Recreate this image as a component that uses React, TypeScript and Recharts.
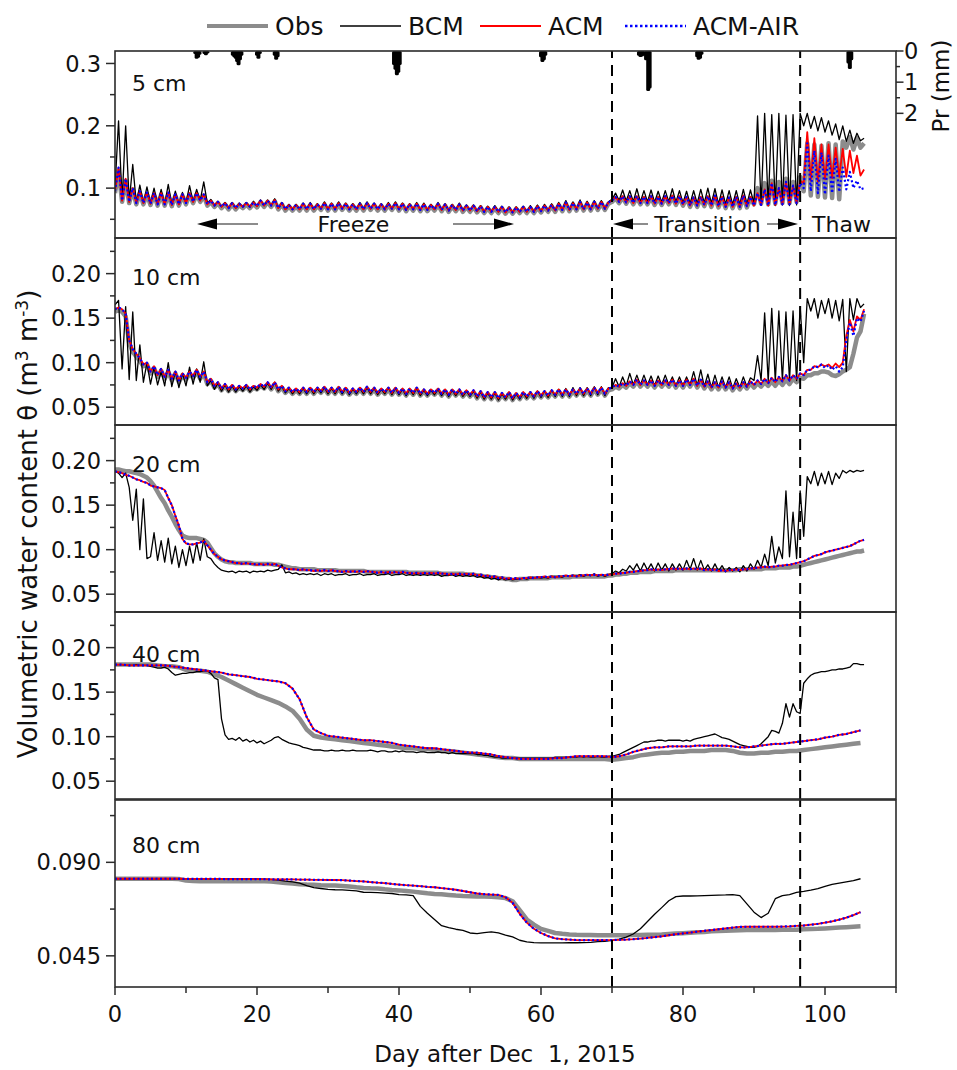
import { ComposedChart, Line, Bar, XAxis, YAxis, ReferenceLine } from 'recharts';

const FONT = '"DejaVu Sans", Verdana, sans-serif';
const INK = '#111';
const FRAME = '#2b2b2b';

// θ in 1e-3 m3 m-3. Half-day samples starting at day 0 unless marked "daily".

// ---- 5 cm ----
const obs5 = [
  92,128,78,112,76,98,74,92,74,90,73,90,72,90,72,90,71,88,72,88,
  74,90,76,90,78,88,72,78,70,76,68,74,66,74,66,73,68,74,68,75,
  69,78,70,78,70,79,66,74,64,71,64,71,64,73,64,73,64,72,65,74,
  64,73,64,74,65,73,64,72,64,73,64,74,65,73,64,72,64,73,65,74,
  64,73,63,72,64,73,63,72,63,71,64,73,63,72,62,71,63,72,62,70,
  62,70,61,69,60,68,60,68,60,68,59,67,59,67,60,68,60,68,60,69,
  61,70,62,71,62,73,63,75,63,74,64,76,64,75,64,76,65,76,65,75,
  78,84,76,85,75,85,74,85,74,84,74,85,73,84,73,85,74,86,73,85,
  72,84,70,83,70,84,71,85,70,86,69,84,68,83,68,84,68,86,69,84,
  74,100,75,108,74,112,75,110,76,115,76,110,78,118,
  95,172,88,170,86,168,85,172,84,170,82,175,165,182,162,180,165,172,
];
const bcm5 = [
  100,208,80,200,78,138,76,105,76,102,75,100,74,98,74,106,73,95,74,93,
  76,104,78,98,80,110,76,82,72,79,70,77,68,77,68,76,70,77,70,79,
  71,81,72,81,72,83,68,77,66,74,66,74,66,76,66,77,66,75,67,78,
  66,76,66,78,67,76,66,75,66,77,66,78,67,76,66,75,66,77,67,78,
  66,76,65,75,66,77,65,76,65,74,66,77,65,75,64,74,65,76,64,73,
  64,73,63,72,62,71,62,72,62,71,61,70,61,70,62,71,62,72,62,73,
  63,74,64,75,64,77,65,80,65,78,66,81,66,79,66,80,67,80,67,78,
  82,92,80,97,79,96,78,99,78,96,78,97,77,95,77,96,78,99,77,96,
  76,95,75,96,75,98,76,100,75,99,74,97,74,96,73,96,73,98,74,97,
  75,216,73,220,72,218,72,220,73,217,72,218,73,220,
  200,220,196,215,192,213,190,208,185,203,178,200,175,193,172,188,176,180,
];
const acm5 = [
  95,133,80,115,78,100,76,95,76,93,75,92,74,92,74,93,73,90,74,90,
  76,92,78,92,80,90,74,80,72,78,70,76,68,76,68,75,70,76,70,77,
  71,80,72,80,72,81,68,76,66,73,66,73,66,75,66,75,66,74,67,76,
  66,75,66,76,67,75,66,74,66,75,66,76,67,75,66,74,66,75,67,76,
  66,75,65,74,66,75,65,74,65,73,66,75,65,74,64,73,65,74,64,72,
  64,72,63,71,62,70,62,70,62,70,61,69,61,69,62,70,62,70,62,71,
  63,72,64,73,64,75,65,77,65,76,66,78,66,77,66,78,67,78,67,77,
  80,86,78,87,77,87,76,87,76,86,76,87,75,86,75,87,76,88,75,87,
  74,86,72,85,72,86,73,87,72,88,71,86,70,85,70,86,70,88,71,86,
  72,92,73,98,72,108,73,100,74,110,74,104,76,112,
  108,190,112,180,110,170,114,170,116,165,118,163,118,160,124,152,120,130,
];
// ACM-AIR follows ACM until the thaw, then runs lower
const air5 = [
  ...acm5.slice(0, 193),
  108,100,172,95,160,92,157,90,152,92,147,94,133,98,126,100,112,98,100,
];

// ---- 10 cm ----
const obs10 = [
  157,160,157,152,122,112,107,102,96,98,88,94,84,91,82,90,80,88,78,86,
  81,88,83,90,82,88,76,80,72,76,69,74,68,73,68,72,69,73,68,72,
  70,74,71,76,70,76,68,72,66,70,65,69,65,70,65,70,65,70,66,71,
  65,70,65,71,65,70,64,69,65,70,65,71,65,70,64,69,65,70,64,70,
  64,69,63,69,64,70,63,68,63,68,64,69,63,68,62,68,63,68,62,67,
  62,67,60,66,59,65,59,65,58,64,59,65,58,64,59,65,60,65,60,66,
  61,66,61,67,62,68,62,68,62,68,63,69,63,69,63,70,64,70,63,69,
  70,73,71,75,72,77,73,79,73,78,73,78,72,78,73,78,73,79,72,78,
  72,79,73,80,72,79,71,77,70,76,70,77,70,76,69,75,70,76,71,77,
  72,77,73,78,74,79,74,80,75,81,76,82,78,83,
  82,86,86,88,88,90,90,89,86,85,87,90,92,95,110,128,135,155,
];
const bcm10 = [
  165,170,93,163,81,157,80,120,78,100,76,95,75,90,74,100,73,90,72,88,
  74,95,76,93,78,101,74,80,70,77,68,75,67,74,67,73,68,74,67,73,
  69,75,70,77,70,78,68,73,66,71,65,70,65,71,65,71,65,71,66,72,
  65,71,65,72,65,71,64,70,65,71,65,72,65,71,64,70,65,72,64,71,
  64,70,63,70,64,71,63,69,63,69,64,70,63,69,62,69,63,69,62,68,
  62,68,60,67,59,66,59,66,58,65,59,66,58,65,59,66,60,67,60,68,
  61,68,61,69,62,70,62,71,62,72,63,72,63,72,63,73,64,73,63,72,
  72,82,73,84,74,88,75,86,75,86,75,85,74,85,75,86,75,84,74,84,
  74,84,75,90,74,92,73,87,72,86,72,84,72,84,71,82,72,84,73,83,
  80,108,80,156,79,161,79,158,80,157,80,158,80,163,
  100,172,158,172,150,170,155,172,150,170,147,171,90,172,148,172,162,166,
];
const acm10 = [
  160,162,160,155,125,115,110,105,98,100,90,96,86,93,84,92,82,90,80,88,
  83,90,85,92,84,90,78,82,74,78,71,76,70,75,70,74,71,75,70,74,
  72,76,73,78,72,78,70,74,68,72,67,71,67,72,67,72,67,72,68,73,
  67,72,67,73,67,72,66,71,67,72,67,73,67,72,66,71,67,72,66,72,
  66,71,65,71,66,72,65,70,65,70,66,71,65,70,64,70,65,70,64,69,
  64,69,62,68,61,67,61,67,60,66,61,67,60,66,61,67,62,67,62,68,
  63,68,63,69,64,70,64,70,64,70,65,71,65,71,65,72,66,72,65,71,
  72,75,73,77,74,79,75,81,75,80,75,80,74,80,75,80,75,81,74,80,
  74,81,75,82,74,81,73,79,72,78,72,79,72,78,71,77,72,78,73,79,
  75,80,76,82,77,83,78,84,79,86,80,86,82,88,
  86,92,92,96,95,98,96,98,94,99,95,100,130,148,135,152,148,160,
];
const air10 = [
  ...acm10.slice(0, 200),
  94,97,92,96,90,95,125,145,130,150,146,158,
];

// ---- 20 cm ----
const obs20 = [
  190,190,189,188,188,187,186,185,183,181,
  177,172,165,158,152,144,137,129,122,116,
  114,113,113,113,112,111,108,102,96,92,
  89,87,86,86,85,85,85,85,85,84,
  84,84,84,84,84,83,83,82,81,80,
  79,79,78,78,78,78,78,77,77,77,
  77,77,77,76,76,76,76,76,76,76,
  76,75,75,75,75,75,75,75,75,75,
  75,75,75,74,74,74,74,74,74,74,
  74,74,73,73,73,73,73,73,73,72,
  72,72,71,71,70,70,69,69,68,68,
  67,67,66,66,67,67,67,68,68,68,
  68,68,68,69,69,69,69,69,69,70,
  70,70,70,70,70,70,70,70,70,71,
  71,72,72,73,73,74,74,74,75,75,
  75,75,76,76,76,76,76,76,77,77,
  77,77,77,77,77,77,77,77,77,77,
  77,77,77,77,77,77,78,78,78,78,
  78,78,78,79,79,79,79,80,80,80,
  80,81,81,82,83,84,85,86,87,88,
  89,90,91,92,93,94,95,96,97,98,
  98,99,
];
const bcm20 = [
  188,186,181,186,170,133,168,100,157,90,
  92,119,88,110,86,113,84,104,80,100,
  82,104,85,108,88,112,92,90,84,80,
  77,76,75,76,74,76,75,76,74,76,
  75,76,75,77,76,77,78,83,74,75,
  73,74,72,73,72,73,72,73,71,73,
  72,73,71,72,72,73,71,72,72,73,
  71,72,72,73,71,72,72,73,71,72,
  72,73,71,72,71,72,71,72,71,72,
  71,72,70,71,71,72,70,71,70,71,
  70,71,69,70,68,69,67,68,66,68,
  66,67,66,67,67,68,67,68,68,69,
  68,69,68,70,69,70,69,71,70,71,
  70,72,70,72,71,73,70,72,70,72,
  73,76,74,78,76,82,77,84,76,85,
  77,84,76,85,77,84,76,84,77,84,
  77,88,78,90,77,88,77,83,76,84,
  76,82,75,80,76,80,75,82,76,84,
  78,88,80,95,82,115,85,103,90,166,
  92,142,90,166,115,182,174,188,172,186,
  174,188,173,186,180,189,186,189,187,189,
  188,189,
];
const acm20 = [
  188,187,186,184,183,181,179,178,176,175,
  172,171,170,169,167,158,150,138,127,112,
  107,106,106,107,108,110,105,100,95,92,
  89,88,87,86,85,85,84,85,84,84,
  83,84,83,84,83,84,82,80,79,78,
  78,78,77,78,77,77,76,77,76,77,
  76,77,76,76,75,76,75,76,75,76,
  75,76,75,75,74,75,74,75,74,75,
  74,75,74,74,73,74,73,74,73,74,
  73,74,73,73,72,73,72,73,72,73,
  72,73,71,72,70,71,69,70,68,69,
  67,68,67,68,67,68,68,69,68,69,
  69,70,69,70,69,70,70,71,70,71,
  70,71,71,72,71,72,71,72,71,72,
  72,73,73,74,74,75,75,76,76,77,
  77,78,77,78,77,78,78,79,78,79,
  78,79,78,79,78,79,77,78,77,78,
  76,77,76,77,77,78,77,78,78,79,
  79,80,80,81,80,81,81,82,82,83,
  83,84,85,86,87,89,91,93,94,95,
  97,98,99,100,101,102,103,104,106,108,
  110,111,
];
// at 20 cm and deeper ACM-AIR sits on top of ACM
const air20 = acm20.slice();

// ---- 40 cm ----
const obs40 = [ // daily
  181,181,181,181,181,181,180,179,179,178,
  175,174,174,173,170,167,163,159,155,151,
  147,144,141,138,134,129,120,108,101,99,
  98,97,96,95,94,93,92,91,90,89,
  88,87,87,86,86,85,84,84,83,82,
  81,80,79,78,77,76,76,75,75,75,
  75,75,75,75,75,75,75,75,75,75,
  74,75,76,77,79,80,81,82,82,83,
  83,84,84,84,85,85,85,84,82,81,
  81,82,82,83,83,84,84,85,86,87,
  88,89,90,91,92,93,
];
const bcm40 = [
  181,181,181,180,180,180,181,180,180,180,
  179,178,177,177,178,176,172,169,170,171,
  171,172,172,173,173,174,174,171,166,164,
  120,102,97,98,96,99,95,97,94,96,
  93,95,92,94,96,99,100,97,95,93,
  92,91,90,88,87,86,85,85,85,84,
  84,85,84,84,85,84,84,85,84,84,
  84,84,85,84,83,84,84,83,83,84,
  83,84,83,83,83,82,83,83,82,82,
  82,83,82,82,81,82,81,81,81,81,
  81,81,80,80,79,79,78,77,77,76,
  76,76,76,76,76,76,76,76,76,76,
  76,76,76,76,77,77,77,77,77,77,
  77,78,77,78,77,77,78,77,77,78,
  78,79,80,82,84,86,88,90,92,94,
  94,95,95,96,96,95,96,96,96,96,
  95,96,95,97,98,99,100,101,102,103,
  101,99,98,97,95,93,91,90,89,88,
  88,89,92,96,100,107,106,104,115,137,
  122,137,128,126,160,165,169,171,172,173,
  173,174,175,175,176,176,177,178,182,182,
  181,181,
];
const acm40 = [ // daily
  181,181,180,180,180,180,180,180,179,178,
  177,176,175,174,173,172,170,169,168,167,
  165,164,163,162,160,154,142,122,108,104,
  101,100,99,98,97,96,96,95,94,93,
  91,90,89,88,87,87,86,85,84,83,
  82,82,81,80,78,77,76,75,75,75,
  75,75,76,76,77,78,78,78,78,78,
  77,78,80,83,85,87,88,88,89,89,
  89,89,90,90,90,90,90,89,88,88,
  89,90,91,92,92,93,94,95,96,97,
  99,100,102,103,105,107,
];
const air40 = acm40.slice();

// ---- 80 cm (daily) ----
const obs80 = [
  82.1,82.1,82.1,82.1,82.1,82.1,82.1,82.1,82.1,82.0,
  81.2,81.0,80.9,80.9,80.9,80.9,80.9,80.9,80.9,80.9,
  80.9,80.9,80.8,80.4,80.0,79.8,79.5,79.3,79.2,79.0,
  78.9,78.8,78.6,78.4,78.0,77.7,77.5,77.4,77.0,76.7,
  76.5,76.2,75.9,75.5,75.1,74.8,74.6,74.3,74.0,73.8,
  73.7,73.6,73.5,73.4,73.2,72.8,71.3,67.0,62.5,60.0,
  58.0,57.0,56.0,55.6,55.3,55.1,55.0,55.0,54.9,54.9,
  54.9,54.9,54.9,55.0,55.0,55.1,55.2,55.3,55.5,55.7,
  55.9,56.1,56.3,56.5,56.8,57.0,57.1,57.2,57.3,57.4,
  57.4,57.4,57.4,57.4,57.5,57.5,57.6,57.8,57.9,58.0,
  58.2,58.4,58.6,58.8,59.0,59.2,
];
const bcm80 = [
  82.1,82.1,82.1,82.1,82.1,82.1,82.1,82.1,82.1,82.1,
  82.0,82.0,82.0,82.0,82.0,82.0,82.0,82.0,82.0,82.0,
  82.0,81.9,81.8,81.5,81.0,80.6,80.0,78.8,77.8,77.4,
  77.0,76.8,76.7,76.5,76.3,75.6,75.5,75.4,75.2,75.0,
  74.5,74.3,74.0,68.8,65.5,62.5,59.5,58.6,57.8,57.2,
  56.0,55.7,56.2,56.5,56.0,55.0,54.1,52.5,51.7,51.4,
  51.2,51.2,51.2,51.2,51.3,51.3,51.4,51.5,51.8,52.0,
  52.4,53.0,54.0,55.5,58.0,61.5,65.0,68.2,71.5,73.5,
  73.8,73.8,73.9,74.0,74.1,74.2,74.3,74.5,74.0,70.0,
  66.0,63.4,65.5,72.5,74.0,74.5,75.5,76.0,76.6,77.3,
  78.4,79.4,80.0,80.6,81.2,82.1,
];
const acm80 = [
  82.1,82.1,82.1,82.1,82.1,82.1,82.1,82.1,82.1,82.1,
  82.0,82.0,82.0,82.0,82.0,82.0,81.9,81.9,81.9,81.9,
  81.9,81.9,81.8,81.8,81.8,81.8,81.7,81.7,81.6,81.6,
  81.5,81.5,81.4,81.2,81.0,80.8,80.5,80.2,80.0,79.6,
  79.3,79.0,78.8,78.5,78.2,78.0,77.6,77.2,76.8,76.2,
  75.6,75.0,74.7,74.5,74.3,73.2,70.5,65.2,61.0,58.0,
  56.0,54.5,53.4,53.0,52.8,52.6,52.6,52.6,52.6,52.6,
  52.6,52.7,52.8,53.0,53.3,53.6,54.0,54.4,54.9,55.4,
  55.8,56.2,56.6,57.0,57.4,57.8,58.2,58.6,58.9,59.0,
  59.0,59.0,59.0,59.0,59.1,59.2,59.4,59.6,60.0,60.4,
  61.0,61.6,62.4,63.4,64.6,66.0,
];
const air80 = acm80.slice();

// precipitation events [day, mm]
const prRain: [number, number][] = [
  [11.3, 0.1], [11.5, 0.25], [11.7, 0.22], [11.9, 0.12],
  [12.6, 0.1], [12.8, 0.14], [13.0, 0.08],
  [16.6, 0.15], [16.8, 0.2], [17.0, 0.25], [17.2, 0.35], [17.4, 0.46], [17.6, 0.3], [17.8, 0.15],
  [20.0, 0.15], [20.2, 0.25], [20.4, 0.1],
  [22.5, 0.15], [22.7, 0.28], [22.9, 0.2],
  [39.3, 0.45], [39.5, 0.6], [39.7, 0.78], [39.9, 0.7], [40.1, 0.45],
  [60.0, 0.2], [60.2, 0.35], [60.4, 0.3], [60.6, 0.15],
  [73.8, 0.15], [74.0, 0.19], [74.2, 0.18], [74.4, 0.15], [74.8, 0.3], [75.1, 1.28], [75.3, 1.2],
  [82.0, 0.2], [82.2, 0.28], [82.4, 0.25], [82.6, 0.12],
  [103.3, 0.4], [103.5, 0.58], [103.7, 0.3],
];

const dayTicks = [0, 10, 20, 30, 40, 50, 60, 70, 80, 90, 100, 110];
const dayLabels = [0, 20, 40, 60, 80, 100];
const prTicks = [0, 0.5, 1, 1.5, 2];
const phaseBounds = [70, 96.5];

type Pt = { day: number; v: number };
const series = (vals: number[], step = 0.5): Pt[] => vals.map((v, i) => ({ day: i * step, v: v / 1000 }));
const prRows = prRain.map(([day, pr]) => ({ day, pr }));

const PANEL_H = 187;
const CHART_W = 957;
const PLOT_L = 115;
const PLOT_R = 896;
const PAD = 14;

const STYLE = {
  obs: { stroke: '#8c8c8c', width: 4.5, dash: undefined as string | undefined },
  bcm: { stroke: '#000000', width: 1.3, dash: undefined as string | undefined },
  acm: { stroke: '#ff0000', width: 1.8, dash: undefined as string | undefined },
  air: { stroke: '#0000ff', width: 2.2, dash: '2 2.5' },
};

type PanelCfg = {
  depth: string;
  top: number;
  labelDy: number;
  domain: [number, number];
  yTicks: number[];
  yLabels: number[];
  digits: number;
  obs: Pt[];
  bcm: Pt[];
  acm: Pt[];
  air: Pt[];
};

const midTicks = [0.05, 0.075, 0.1, 0.125, 0.15, 0.175, 0.2, 0.225];
const midLabels = [0.05, 0.1, 0.15, 0.2];

const panels: PanelCfg[] = [
  { depth: '5 cm', top: 51, labelDy: 40, domain: [0.02, 0.32], yTicks: [0.05, 0.1, 0.15, 0.2, 0.25, 0.3], yLabels: [0.1, 0.2, 0.3], digits: 1,
    obs: series(obs5), bcm: series(bcm5), acm: series(acm5), air: series(air5) },
  { depth: '10 cm', top: 238, labelDy: 47, domain: [0.03, 0.24], yTicks: midTicks, yLabels: midLabels, digits: 2,
    obs: series(obs10), bcm: series(bcm10), acm: series(acm10), air: series(air10) },
  { depth: '20 cm', top: 425, labelDy: 47, domain: [0.03, 0.24], yTicks: midTicks, yLabels: midLabels, digits: 2,
    obs: series(obs20), bcm: series(bcm20), acm: series(acm20), air: series(air20) },
  { depth: '40 cm', top: 612, labelDy: 50, domain: [0.03, 0.24], yTicks: midTicks, yLabels: midLabels, digits: 2,
    obs: series(obs40, 1), bcm: series(bcm40), acm: series(acm40, 1), air: series(air40, 1) },
  { depth: '80 cm', top: 800, labelDy: 53, domain: [0.03, 0.12], yTicks: [0.045, 0.0675, 0.09, 0.1125], yLabels: [0.045, 0.09], digits: 3,
    obs: series(obs80, 1), bcm: series(bcm80, 1), acm: series(acm80, 1), air: series(air80, 1) },
];

function LeftTick(props: any) {
  const { x, y, payload, labels, digits } = props;
  const major = labels.includes(payload.value);
  return (
    <g>
      <line x1={x - (major ? 9 : 5)} x2={x} y1={y} y2={y} stroke={FRAME} strokeWidth={1.5} />
      {major && (
        <text x={x - 14} y={y} dy="0.36em" textAnchor="end" fontSize={22.5} fontFamily={FONT} fill={INK}>
          {payload.value.toFixed(digits)}
        </text>
      )}
    </g>
  );
}

function TopTick(props: any) {
  const { x, y, payload } = props;
  const len = payload.value % 20 === 0 ? 8 : 5.5;
  return <line x1={x} x2={x} y1={y} y2={y + len} stroke={FRAME} strokeWidth={1.5} />;
}

function BottomTick(props: any) {
  const { x, y, payload } = props;
  const major = dayLabels.includes(payload.value);
  return (
    <g>
      <line x1={x} x2={x} y1={y} y2={y + (major ? 8 : 6)} stroke={FRAME} strokeWidth={1.5} />
      {major && (
        <text x={x} y={y + 35} textAnchor="middle" fontSize={22.5} fontFamily={FONT} fill={INK}>
          {payload.value}
        </text>
      )}
    </g>
  );
}

function RightTick(props: any) {
  const { x, y, payload } = props;
  const major = Number.isInteger(payload.value);
  return (
    <g>
      <line x1={x} x2={x + (major ? 7.5 : 4)} y1={y} y2={y} stroke={FRAME} strokeWidth={1.5} />
      {major && (
        <text x={x + 8} y={y} dy="0.36em" textAnchor="start" fontSize={22.5} fontFamily={FONT} fill={INK}>
          {payload.value}
        </text>
      )}
    </g>
  );
}

// rain bars hang from the top of the 5 cm panel; drawn a little wider than the data spacing
function RainBar(props: any) {
  const { x, y, width, height } = props;
  if (!height) return <g />;
  const cx = x + width / 2;
  const top = Math.min(y, y + height);
  return <rect x={cx - 2} y={top} width={4} height={Math.abs(height)} rx={1.5} fill="#000" />;
}

function Panel({ cfg, index }: { cfg: PanelCfg; index: number }) {
  const first = index === 0;
  const last = index === panels.length - 1;
  const height = PAD + PANEL_H + (last ? 78 : PAD);
  const lines: [keyof typeof STYLE, Pt[]][] = [
    ['obs', cfg.obs],
    ['bcm', cfg.bcm],
    ['acm', cfg.acm],
    ['air', cfg.air],
  ];
  return (
    <div style={{ position: 'absolute', left: 0, top: cfg.top - PAD }}>
      <ComposedChart
        width={CHART_W}
        height={height}
        data={first ? prRows : undefined}
        margin={{ top: PAD, right: 0, bottom: last ? 0 : PAD, left: 0 }}
      >
        <XAxis
          xAxisId="b"
          dataKey="day"
          type="number"
          domain={[0, 110]}
          ticks={dayTicks}
          interval={0}
          allowDataOverflow
          orientation="bottom"
          height={last ? 78 : 0}
          axisLine={false}
          tickLine={false}
          tickSize={0}
          tickMargin={0}
          tick={last ? (p: any) => <BottomTick {...p} /> : false}
        />
        <XAxis
          xAxisId="t"
          dataKey="day"
          type="number"
          domain={[0, 110]}
          ticks={dayTicks}
          interval={0}
          allowDataOverflow
          orientation="top"
          height={0}
          axisLine={false}
          tickLine={false}
          tickSize={0}
          tickMargin={0}
          tick={(p: any) => <TopTick {...p} />}
        />
        <YAxis
          yAxisId="l"
          type="number"
          domain={cfg.domain}
          ticks={cfg.yTicks}
          interval={0}
          allowDataOverflow
          width={PLOT_L}
          axisLine={false}
          tickLine={false}
          tickSize={0}
          tickMargin={0}
          tick={(p: any) => <LeftTick {...p} labels={cfg.yLabels} digits={cfg.digits} />}
        />
        <YAxis
          yAxisId="r"
          orientation="right"
          type="number"
          domain={first ? [0, 6] : [0, 1]}
          reversed={first}
          ticks={first ? prTicks : []}
          interval={0}
          allowDataOverflow
          width={CHART_W - PLOT_R}
          axisLine={false}
          tickLine={false}
          tickSize={0}
          tickMargin={0}
          tick={first ? (p: any) => <RightTick {...p} /> : false}
        />
        {first && (
          <Bar xAxisId="b" yAxisId="r" dataKey="pr" fill="#000" shape={(p: any) => <RainBar {...p} />} isAnimationActive={false} />
        )}
        {lines.map(([key, data]) => (
          <Line
            key={key}
            xAxisId="b"
            yAxisId="l"
            data={data}
            dataKey="v"
            type="linear"
            stroke={STYLE[key].stroke}
            strokeWidth={STYLE[key].width}
            strokeDasharray={STYLE[key].dash}
            strokeLinejoin="round"
            dot={false}
            activeDot={false}
            isAnimationActive={false}
          />
        ))}
        {phaseBounds.map((d) => (
          <ReferenceLine key={d} xAxisId="b" yAxisId="l" x={d} stroke="#000" strokeWidth={2} strokeDasharray="11 7" />
        ))}
      </ComposedChart>
    </div>
  );
}

const legendItems = [
  { name: 'Obs', x: 207, style: STYLE.obs },
  { name: 'BCM', x: 340, style: STYLE.bcm },
  { name: 'ACM', x: 480, style: STYLE.acm },
  { name: 'ACM-AIR', x: 625, style: STYLE.air },
];

function Arrow({ from, to, y }: { from: number; to: number; y: number }) {
  const dir = Math.sign(to - from);
  const base = to - dir * 20;
  return (
    <g>
      <line x1={from} x2={base} y1={y} y2={y} stroke="#8c8c8c" strokeWidth={2} />
      <polygon points={`${to},${y} ${base},${y - 5.5} ${base},${y + 5.5}`} fill="#000" />
    </g>
  );
}

export default function App() {
  return (
    <div style={{ position: 'absolute', left: 0, top: 0, width: 957, height: 1070, background: '#fff' }}>
      {panels.map((cfg, i) => (
        <Panel key={cfg.depth} cfg={cfg} index={i} />
      ))}
      <svg
        width={957}
        height={1070}
        style={{ position: 'absolute', left: 0, top: 0, pointerEvents: 'none' }}
        fontFamily={FONT}
        fill={INK}
      >
        {/* panel frames */}
        {panels.map((cfg) => (
          <rect
            key={cfg.depth}
            x={PLOT_L}
            y={cfg.top}
            width={PLOT_R - PLOT_L}
            height={PANEL_H}
            fill="none"
            stroke={FRAME}
            strokeWidth={1.6}
          />
        ))}

        {legendItems.map((it) => (
          <g key={it.name}>
            <line
              x1={it.x}
              x2={it.x + 61}
              y1={26}
              y2={26}
              stroke={it.style.stroke}
              strokeWidth={it.name === 'Obs' ? 4 : it.style.width + 0.4}
              strokeDasharray={it.style.dash ? '2.5 2.5' : undefined}
            />
            <text x={it.x + 68} y={35} fontSize={25}>
              {it.name}
            </text>
          </g>
        ))}

        {panels.map((cfg) => (
          <text key={cfg.depth} x={132} y={cfg.top + cfg.labelDy} fontSize={22}>
            {cfg.depth}
          </text>
        ))}

        {/* phase annotations in the 5 cm panel */}
        <Arrow from={258} to={197} y={224} />
        <text x={353.5} y={232} textAnchor="middle" fontSize={22}>Freeze</text>
        <Arrow from={453} to={514} y={224} />
        <Arrow from={648} to={613} y={224} />
        <text x={707.5} y={232} textAnchor="middle" fontSize={22}>Transition</text>
        <Arrow from={767} to={798} y={224} />
        <text x={841.5} y={232} textAnchor="middle" fontSize={22}>Thaw</text>

        <text transform="translate(37,524) rotate(-90)" textAnchor="middle" fontSize={26}>
          Volumetric water content θ (m<tspan dy={-9} fontSize={17}>3</tspan>
          <tspan dy={9}> m</tspan>
          <tspan dy={-9} fontSize={17}>-3</tspan>
          <tspan dy={9}>)</tspan>
        </text>
        <text transform="translate(949,86) rotate(-90)" textAnchor="middle" fontSize={23}>
          Pr (mm)
        </text>
        <text x={505} y={1062} textAnchor="middle" fontSize={23} style={{ whiteSpace: 'pre' }}>
          {'Day after Dec  1, 2015'}
        </text>
      </svg>
    </div>
  );
}
